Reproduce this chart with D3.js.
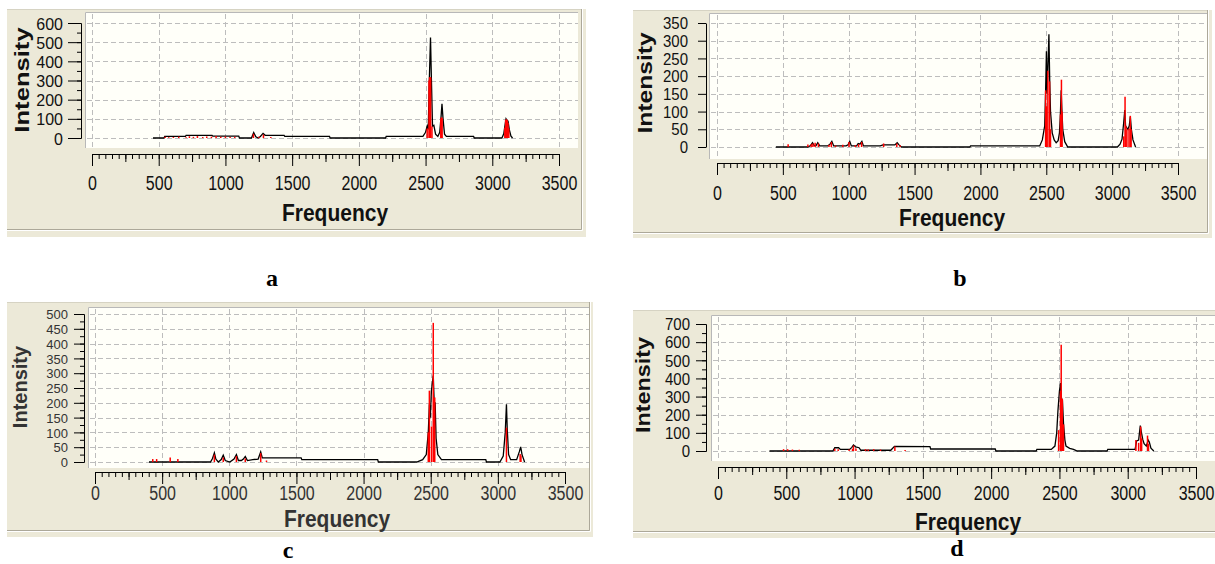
<!DOCTYPE html>
<html>
<head>
<meta charset="utf-8">
<script src="https://cdn.jsdelivr.net/npm/d3@7"></script>
<style>
  body { margin: 0; background: #fff; }
  svg { display: block; }
</style>
</head>
<body>
<div id="chart"></div>
<script>
// frequency axis, same for the four spectra
var freqTicks = [0, 500, 1000, 1500, 2000, 2500, 3000, 3500]

// intensity tick labels of each spectrum
var yTicksA = [0, 100, 200, 300, 400, 500, 600]
var yTicksB = [0, 50, 100, 150, 200, 250, 300, 350]
var yTicksC = [0, 50, 100, 150, 200, 250, 300, 350, 400, 450, 500]
var yTicksD = [0, 100, 200, 300, 400, 500, 600, 700]

// broadened spectrum (black line) as [frequency, intensity]
var curveA = [[457,0],[540,0],[545,8],[700,8],[705,14],[900,14],[905,10],[1100,10],[1105,0],[1195,0],[1212,28],[1228,6],
  [1245,0],[1262,8],[1282,24],[1298,14],[1440,14],[1445,8],[1780,8],[1785,0],[2200,0],[2205,8],[2480,8],[2500,30],
  [2512,62],[2520,45],[2528,300],[2537,524],[2544,300],[2552,62],[2562,66],[2575,20],[2592,8],[2606,30],[2616,110],
  [2623,178],[2631,100],[2642,20],[2656,8],[2860,8],[2865,0],[3072,0],[3086,22],[3096,70],[3103,100],[3110,92],
  [3118,88],[3128,42],[3140,10],[3152,0]]
var curveB = [[447,0],[690,0],[710,4],[725,12],[738,4],[752,4],[765,12],[780,3],[840,3],[858,8],[872,16],[886,3],
  [980,3],[995,6],[1008,16],[1020,3],[1060,3],[1072,10],[1085,8],[1100,16],[1112,3],[1240,3],[1260,6],[1350,6],
  [1368,12],[1382,6],[1400,0],[1920,0],[1925,3],[2450,3],[2470,20],[2488,60],[2495,160],[2501,270],[2506,150],
  [2512,220],[2520,318],[2526,190],[2532,100],[2545,40],[2560,20],[2575,12],[2590,18],[2600,40],[2607,92],
  [2613,160],[2618,110],[2625,50],[2640,15],[2663,0],[3040,0],[3060,8],[3075,22],[3088,70],[3096,104],[3102,60],
  [3110,55],[3120,50],[3130,60],[3138,86],[3146,50],[3158,20],[3178,0]]
var curveC = [[402,0],[860,0],[875,12],[889,31],[900,10],[918,0],[940,8],[955,23],[970,5],[1004,0],[1035,10],[1053,25],
  [1068,5],[1090,5],[1105,10],[1119,19],[1135,5],[1175,8],[1215,10],[1234,34],[1246,14],[1535,14],[1540,8],[2105,8],
  [2110,0],[2396,0],[2440,8],[2467,25],[2482,100],[2490,195],[2497,150],[2505,240],[2519,292],[2526,200],[2533,200],
  [2540,80],[2553,25],[2580,8],[2910,8],[2915,0],[3015,0],[3040,20],[3055,100],[3064,195],[3070,110],[3080,25],
  [3095,8],[3140,8],[3160,35],[3170,51],[3180,25],[3199,0]]
var curveD = [[377,0],[841,0],[855,18],[883,18],[896,9],[964,9],[980,20],[992,33],[1008,22],[1033,18],[1046,4],
  [1265,4],[1292,26],[1552,24],[1557,11],[2030,11],[2035,0],[2330,0],[2335,9],[2440,9],[2467,27],[2480,100],
  [2489,220],[2500,330],[2508,375],[2515,290],[2522,280],[2530,150],[2540,60],[2548,27],[2575,15],[2603,9],
  [2631,0],[2849,0],[2854,9],[3054,9],[3065,55],[3080,60],[3092,140],[3101,100],[3110,64],[3120,40],[3136,27],
  [3150,60],[3158,49],[3170,15],[3191,0]]

// calculated lines (red sticks) as [frequency, intensity]
var sticksA = [[548,6],[575,4],[610,5],[650,7],[705,4],[730,9],[760,6],[790,10],[830,5],[860,8],[895,7],[930,10],
  [965,6],[1000,8],[1035,5],[1070,7],[1210,22],[1250,6],[1285,18],[1340,5],[2512,50],[2526,300],[2530,316],
  [2534,318],[2538,316],[2548,60],[2614,100],[2619,108],[2624,104],[3094,55],[3100,95],[3106,98],[3112,92],
  [3118,80],[3124,50]]
var sticksB = [[540,8],[690,7],[715,8],[728,10],[745,12],[770,10],[850,6],[868,14],[900,4],[955,6],[1002,14],
  [1050,5],[1075,8],[1098,14],[1265,10],[1365,10],[1390,5],[2495,160],[2502,115],[2512,215],[2525,185],[2532,50],
  [2608,92],[2615,190],[2620,100],[3088,30],[3098,142],[3104,60],[3112,50],[3128,52],[3138,88],[3144,50]]
var sticksC = [[430,10],[459,10],[560,15],[617,10],[889,25],[955,15],[1053,20],[1119,12],[1234,30],[1277,5],
  [2482,100],[2490,241],[2506,120],[2519,470],[2530,218],[3064,116],[3166,27],[3172,22]]
var sticksD = [[480,10],[510,10],[545,8],[595,7],[855,12],[880,10],[960,8],[985,12],[992,30],[1010,14],[1080,10],
  [1100,8],[1140,10],[1190,8],[1295,25],[1370,6],[2494,115],[2508,330],[2513,586],[2521,288],[2530,147],
  [3060,60],[3080,45],[3095,135],[3102,70],[3145,85],[3152,40]]

// where each panel sits on the page
var panels = [
  {name: "a", curve: curveA, sticks: sticksA, yTicks: yTicksA, yMinor: 50, yMajorLen: 13, tickFont: 16, tickStretch: 1.07, ink: "#111",
   bg: [7, 9, 586, 237], frame: [581, 229], plot: [85, 12, 578, 148],
   xr: [92, 559], axisY: 154, yr: [138, 23], axisX: 81, yLabGap: 18, xLabOff: 36,
   intensity: [22, 80, 105], freq: [335, 213], letter: [272, 286]},
  {name: "b", curve: curveB, sticks: sticksB, yTicks: yTicksB, yMinor: 0, yMajorLen: 8, tickFont: 15, tickStretch: 1.05, ink: "#111",
   bg: [633, 10, 1212, 238], frame: [1207, 232], plot: [709, 13, 1207, 159],
   xr: [717, 1178], axisY: 163, yr: [147, 23], axisX: 706, yLabGap: 18, xLabOff: 37,
   intensity: [645, 83, 101], freq: [952, 218], letter: [960, 286]},
  {name: "c", curve: curveC, sticks: sticksC, yTicks: yTicksC, yMinor: 25, yMajorLen: 10, tickFont: 13, tickStretch: 1.0, ink: "#333",
   bg: [7, 302, 593, 537], frame: [589, 530], plot: [88, 307, 589, 468],
   xr: [95, 565], axisY: 472, yr: [462, 314], axisX: 84, yLabGap: 16, xLabOff: 28,
   intensity: [20, 387, 82], freq: [337, 519], letter: [288, 558]},
  {name: "d", curve: curveD, sticks: sticksD, yTicks: yTicksD, yMinor: 50, yMajorLen: 10, tickFont: 15, tickStretch: 1.07, ink: "#111",
   bg: [633, 310, 1215, 538], frame: [1230, 531], plot: [711, 315, 1215, 461],
   xr: [718, 1196], axisY: 467, yr: [451, 324], axisX: 706, yLabGap: 16, xLabOff: 33,
   intensity: [643, 385, 96], freq: [968, 522], letter: [957, 556]}
]

var svg = d3.select("#chart").append("svg")
    .attr("width", 1215)
    .attr("height", 564)

var sans = "'Liberation Sans', Arial, sans-serif"
var plain = d3.format("d")

panels.forEach(function(p) {
  var g = svg.append("g")

  // grey window background + sunken edge
  g.append("rect")
    .attr("x", p.bg[0]).attr("y", p.bg[1])
    .attr("width", p.bg[2] - p.bg[0]).attr("height", p.bg[3] - p.bg[1])
    .attr("fill", "#ece9d8")
  g.append("path")
    .attr("d", "M" + p.bg[0] + "," + (p.frame[1] + 0.5) + "H" + (p.frame[0] + 0.5) + "V" + p.bg[1])
    .attr("fill", "none").attr("stroke", "#aca899")
  g.append("path")
    .attr("d", "M" + p.bg[0] + "," + (p.frame[1] + 1.5) + "H" + (p.frame[0] + 1.5) + "V" + p.bg[1])
    .attr("fill", "none").attr("stroke", "#ffffff")
  g.append("line")
    .attr("x1", p.bg[0]).attr("x2", p.frame[0])
    .attr("y1", p.bg[1] + 0.5).attr("y2", p.bg[1] + 0.5)
    .attr("stroke", "#d6d3c3")

  // plot area
  g.append("rect")
    .attr("x", p.plot[0]).attr("y", p.plot[1])
    .attr("width", p.plot[2] - p.plot[0]).attr("height", p.plot[3] - p.plot[1])
    .attr("fill", "#fffff9")
  g.append("path")
    .attr("d", "M" + (p.plot[0] + 0.5) + "," + p.plot[3] + "V" + (p.plot[1] + 0.5) + "H" + p.plot[2])
    .attr("fill", "none").attr("stroke", "#b8b8b8")

  var x = d3.scaleLinear().domain([0, 3500]).range(p.xr)
  var y = d3.scaleLinear().domain([0, p.yTicks[p.yTicks.length - 1]]).range(p.yr)

  // dashed grid
  g.selectAll(".vgrid").data(freqTicks).enter().append("line")
    .attr("x1", function(d) { return Math.round(x(d)) + 0.5 })
    .attr("x2", function(d) { return Math.round(x(d)) + 0.5 })
    .attr("y1", p.plot[1] + 2).attr("y2", p.plot[3])
    .attr("stroke", "#bdbdbd").attr("stroke-dasharray", "5,3")
  g.selectAll(".hgrid").data(p.yTicks).enter().append("line")
    .attr("x1", p.plot[0] + 2).attr("x2", p.plot[2])
    .attr("y1", function(d) { return Math.round(y(d)) + 0.5 })
    .attr("y2", function(d) { return Math.round(y(d)) + 0.5 })
    .attr("stroke", "#bdbdbd").attr("stroke-dasharray", "5,3")

  // spectrum line and the red sticks
  var line = d3.line()
    .x(function(d) { return x(d[0]) })
    .y(function(d) { return y(d[1]) })
  g.append("path")
    .datum(p.curve)
    .attr("d", line)
    .attr("fill", "none").attr("stroke", "#000").attr("stroke-width", 1.3)
  g.selectAll(".stick").data(p.sticks).enter().append("line")
    .attr("x1", function(d) { return x(d[0]) })
    .attr("x2", function(d) { return x(d[0]) })
    .attr("y1", y(0))
    .attr("y2", function(d) { return y(d[1]) })
    .attr("stroke", "#ff0000").attr("stroke-width", 1.5)

  // y axis: minor ticks then labelled ones
  var ymax = p.yTicks[p.yTicks.length - 1]
  if (p.yMinor > 0) {
    g.append("g")
      .attr("transform", "translate(" + p.axisX + ",0)")
      .call(d3.axisLeft(y).tickValues(d3.range(0, ymax + 1, p.yMinor)).tickSize(4).tickFormat("").tickSizeOuter(0))
      .selectAll("path,line").attr("stroke", "#000")
  }
  var ya = g.append("g")
    .attr("transform", "translate(" + p.axisX + ",0)")
    .call(d3.axisLeft(y).tickValues(p.yTicks).tickFormat(plain).tickSize(p.yMajorLen).tickSizeOuter(0))
  ya.selectAll("path,line").attr("stroke", "#000")
  ya.selectAll("text")
    .attr("x", null).attr("dy", null)
    .attr("transform", "translate(" + (-p.yLabGap) + "," + (p.tickFont * 0.36 * p.tickStretch) + ") scale(1," + p.tickStretch + ")")
    .attr("font-family", sans).attr("font-size", p.tickFont).attr("fill", p.ink)

  // x axis ruler
  var xa0 = g.append("g").attr("transform", "translate(0," + p.axisY + ")")
  xa0.call(d3.axisBottom(x).tickValues(d3.range(0, 3501, 50)).tickSize(5).tickFormat("").tickSizeOuter(0))
  xa0.selectAll("path,line").attr("stroke", "#000")
  var xa1 = g.append("g").attr("transform", "translate(0," + p.axisY + ")")
  xa1.call(d3.axisBottom(x).tickValues(d3.range(250, 3500, 500)).tickSize(8).tickFormat("").tickSizeOuter(0))
  xa1.selectAll("path,line").attr("stroke", "#000")
  var xa = g.append("g").attr("transform", "translate(0," + p.axisY + ")")
    .call(d3.axisBottom(x).tickValues(freqTicks).tickFormat(plain).tickSize(12).tickSizeOuter(0))
  xa.selectAll("path,line").attr("stroke", "#000")
  xa.selectAll("text")
    .attr("y", null).attr("dy", null)
    .attr("transform", "translate(0," + p.xLabOff + ") scale(1,1.25)")
    .attr("font-family", sans).attr("font-size", 16).attr("fill", p.ink)

  // axis titles
  g.append("text")
    .attr("transform", "translate(" + p.intensity[0] + "," + p.intensity[1] + ") scale(1," + (p.intensity[2] / 82) + ") rotate(-90)")
    .attr("text-anchor", "middle").attr("dy", "0.36em")
    .attr("font-family", sans).attr("font-weight", "bold").attr("font-size", 20)
    .attr("fill", p.ink)
    .text("Intensity")
  g.append("text")
    .attr("transform", "translate(" + p.freq[0] + "," + p.freq[1] + ") scale(1,1.12)")
    .attr("text-anchor", "middle").attr("dy", "0.36em")
    .attr("font-family", sans).attr("font-weight", "bold").attr("font-size", 21)
    .attr("fill", p.ink)
    .text("Frequency")

  // panel letter
  svg.append("text")
    .attr("x", p.letter[0]).attr("y", p.letter[1])
    .attr("text-anchor", "middle")
    .attr("font-family", "'Liberation Serif', 'Times New Roman', serif")
    .attr("font-weight", "bold").attr("font-size", 24)
    .text(p.name)
})
</script>
</body>
</html>
